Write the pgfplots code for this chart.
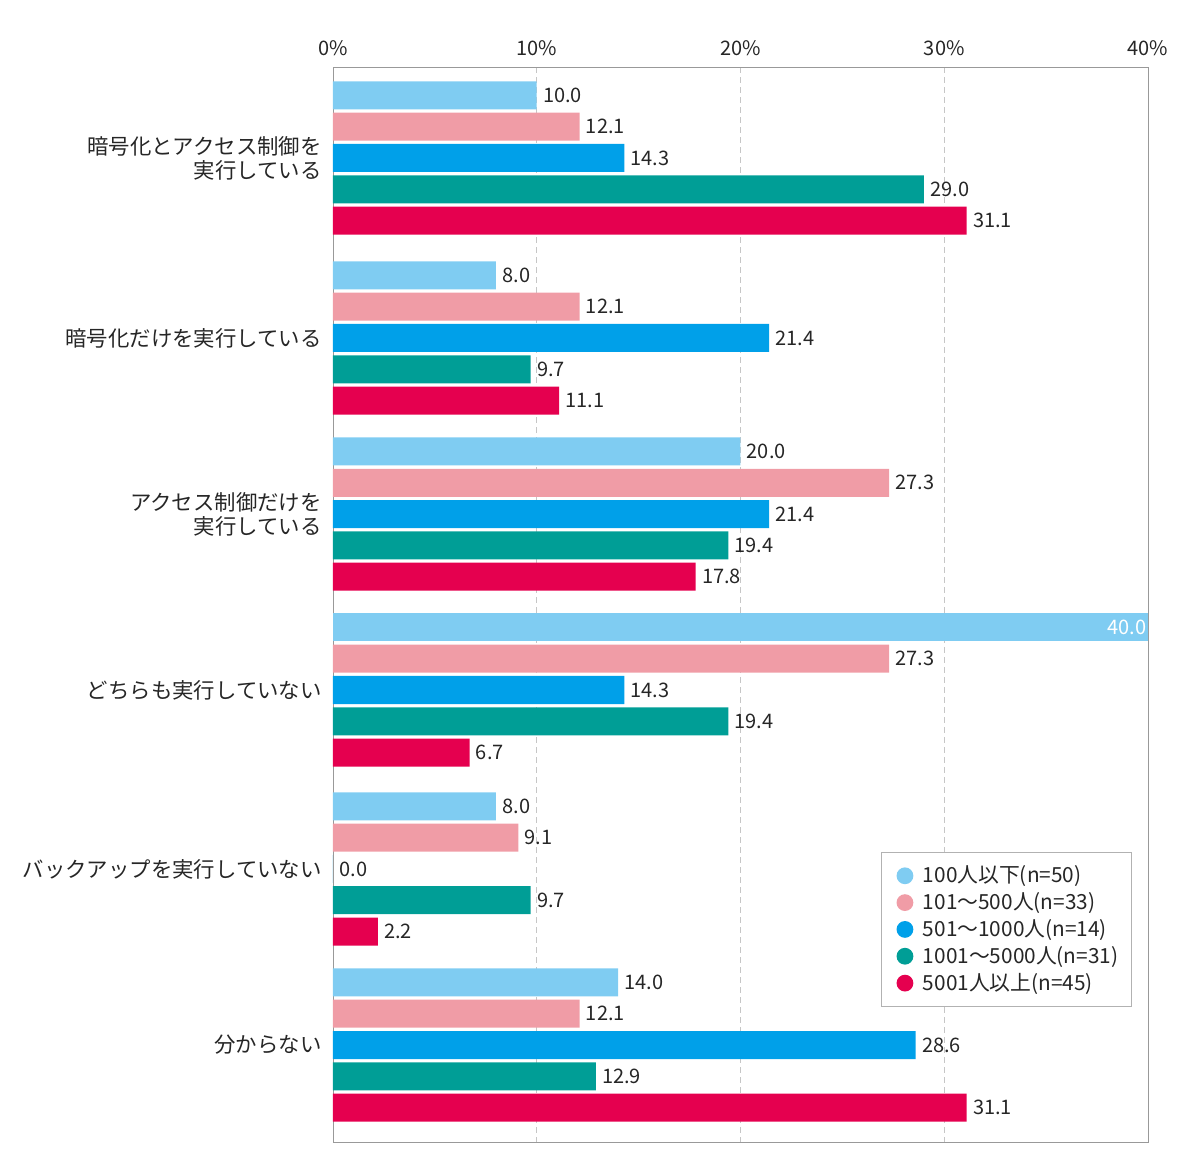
\documentclass[border=0pt]{standalone}
\usepackage{fontspec}
\setmainfont{Noto Sans CJK JP}
\usepackage{pgfplots}
\pgfplotsset{compat=1.18}
\definecolor{c1}{HTML}{7FCCF2}
\definecolor{c2}{HTML}{F09CA6}
\definecolor{c3}{HTML}{00A0E9}
\definecolor{c4}{HTML}{009E96}
\definecolor{c5}{HTML}{E5004F}
\begin{document}
\begin{tikzpicture}[x=1pt,y=1pt]
\path[use as bounding box] (0pt,0pt) rectangle (600pt,587.5pt);
\begin{axis}[
  at={(166.5pt,16.5pt)}, anchor=south west,
  scale only axis, width=407.5pt, height=537.5pt,
  xmin=0, xmax=40, ymin=-0.513, ymax=5.549, y dir=reverse,
  xbar, bar width=0.158,
  every axis plot/.append style={bar shift=0pt, draw=none},
  axis line style={gray!80},
  xtick={0,10,20,30,40},
  xticklabel={\pgfmathprintnumber[assume math mode=true]{\tick}\%},
  xticklabel pos=upper,
  xmajorgrids, grid style={densely dashed, gray!45},
  major tick length=0pt,
  tick label style={font=\fontsize{10}{12}\selectfont, text=black!85},
  xticklabel style={inner sep=0pt},
  yticklabel style={inner sep=0pt, align=right, font=\fontsize{10.7}{12}\selectfont},
  xticklabel shift=5.5pt, yticklabel shift=5.5pt,
  ytick={0,1.015,2.008,3,4.009,5.002},
  yticklabels={{暗号化とアクセス制御を\\実行している},{暗号化だけを実行している},{アクセス制御だけを\\実行している},{どちらも実行していない},{バックアップを実行していない},{分からない}},
  nodes near coords={\pgfmathprintnumber[fixed,fixed zerofill,precision=1,assume math mode=true]{\pgfplotspointmeta}},
  nodes near coords style={anchor=west, inner sep=0pt, xshift=3pt, font=\fontsize{10}{12}\selectfont, text=black!85},
  legend style={at={(0.980,0.1256)}, anchor=south east, draw=gray!60, font=\fontsize{10.4}{12}\selectfont, text=black!85, cells={anchor=west}, inner xsep=4.5pt, inner ysep=5pt, nodes={inner ysep=1.7pt}},
  legend image code/.code={\path (0pt,0pt) (14.5pt,0pt); \fill[#1,draw=none] (7.5pt,0pt) circle (4.2pt);},
]
\addplot[fill=c1] coordinates {(10.0,-0.353) (8.0,0.662) (20.0,1.655) (8.0,3.656) (14.0,4.649)};
\addlegendentry{100人以下(n=50)}
\addplot[fill=c1, forget plot, nodes near coords style={anchor=east, xshift=-3.5pt, text=white}] coordinates {(40.0,2.647)};
\addplot[fill=c2] coordinates {(12.1,-0.1765) (12.1,0.8385) (27.3,1.8315) (27.3,2.8235) (9.1,3.8325) (12.1,4.8255)};
\addlegendentry{101～500人(n=33)}
\addplot[fill=c3] coordinates {(14.3,0) (21.4,1.015) (21.4,2.008) (14.3,3) (0.0,4.009) (28.6,5.002)};
\addlegendentry{501～1000人(n=14)}
\addplot[fill=c4] coordinates {(29.0,0.1765) (9.7,1.1915) (19.4,2.1845) (19.4,3.1765) (9.7,4.1855) (12.9,5.1785)};
\addlegendentry{1001～5000人(n=31)}
\addplot[fill=c5] coordinates {(31.1,0.353) (11.1,1.368) (17.8,2.361) (6.7,3.353) (2.2,4.362) (31.1,5.355)};
\addlegendentry{5001人以上(n=45)}
\end{axis}
\end{tikzpicture}
\end{document}
